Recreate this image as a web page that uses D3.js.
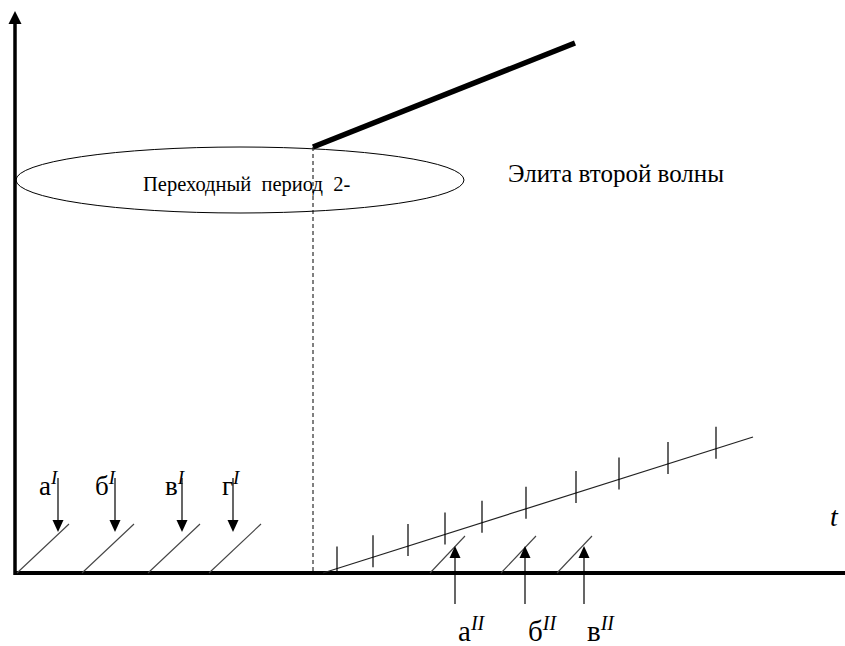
<!DOCTYPE html>
<html>
<head>
<meta charset="utf-8">
<script src="https://cdn.jsdelivr.net/npm/d3@7/dist/d3.min.js"></script>
<style>
  html, body { margin: 0; padding: 0; background: #fff; }
  svg { display: block; }
  text { font-family: "Liberation Serif", "Times New Roman", serif; fill: #000; }
</style>
</head>
<body>
<svg id="chart" width="845" height="646"></svg>
<script>
// ---- data (diagram units: t along the time axis, v upward) ----
const axisExtent = { tMax: 830, vMax: 562 };
const transitionT = 298;                       // start of the second wave
const eliteLine = [ { t: 298, v: 426 }, { t: 560, v: 530 } ];
const ellipseShape = { t: 225, v: 393, rt: 224, rv: 33 };
const ellipseLabel = "Переходный  период  2-";
const eliteLabel = "Элита второй волны";
const timeLabel = "t";

const firstWaveLabels = ["а", "б", "в", "г"];
const firstWaveLabelSup = "I";
const firstWaveStarts = [2, 67, 133, 194];     // diagonal start along t
const firstWaveArrows = [43, 100, 167, 218];   // arrow positions along t
const firstWaveLabelT = [24, 80, 150, 207];

const rampLine = [ { t: 308, v: 0 }, { t: 738, v: 136 } ];
const rampTicks = [322, 358, 393, 430, 467, 511, 561, 604, 653, 701];

const secondWaveLabels = ["а", "б", "в"];
const secondWaveLabelSup = "II";
const secondWaveStarts = [415, 486, 542];
const secondWaveArrows = [440, 510, 569];
const secondWaveLabelT = [443, 513, 572];

// ---- scales ----
const x = d3.scaleLinear().domain([0, 830]).range([15, 845]);
const y = d3.scaleLinear().domain([0, 560]).range([573, 13]);
const svg = d3.select("#chart");

// ---- axes ----
svg.append("line")
  .attr("x1", x(0)).attr("y1", y(0))
  .attr("x2", x(axisExtent.tMax)).attr("y2", y(0))
  .attr("stroke", "#000").attr("stroke-width", 4);
svg.append("line")
  .attr("x1", x(0)).attr("y1", y(0) + 2)
  .attr("x2", x(0)).attr("y2", y(axisExtent.vMax) + 4)
  .attr("stroke", "#000").attr("stroke-width", 3.5);
{
  const tipY = y(axisExtent.vMax), cx = x(0);
  svg.append("path")
    .attr("d", `M${cx},${tipY} L${cx - 6.5},${tipY + 13} L${cx + 6.5},${tipY + 13} Z`)
    .attr("fill", "#000");
}

// ---- ellipse ----
svg.append("ellipse")
  .attr("cx", x(ellipseShape.t)).attr("cy", y(ellipseShape.v))
  .attr("rx", x(ellipseShape.rt) - x(0)).attr("ry", y(0) - y(ellipseShape.rv))
  .attr("fill", "none").attr("stroke", "#000").attr("stroke-width", 1);

svg.append("text")
  .attr("x", x(128)).attr("y", y(382))
  .attr("font-size", 20.5)
  .style("white-space", "pre")
  .text(ellipseLabel);

// ---- dashed transition line ----
svg.append("line")
  .attr("x1", x(transitionT)).attr("y1", y(eliteLine[0].v))
  .attr("x2", x(transitionT)).attr("y2", y(0))
  .attr("stroke", "#000").attr("stroke-width", 1)
  .attr("stroke-dasharray", "4,3");

// ---- elite line ----
svg.append("path")
  .attr("d", d3.line().x(d => x(d.t)).y(d => y(d.v))(eliteLine))
  .attr("stroke", "#000").attr("stroke-width", 5.5).attr("fill", "none");

svg.append("text")
  .attr("x", x(493)).attr("y", y(391))
  .attr("font-size", 25)
  .text(eliteLabel);

// ---- time label ----
svg.append("text")
  .attr("x", x(815)).attr("y", y(47))
  .attr("font-size", 28).attr("font-style", "italic")
  .text(timeLabel);

// ---- first wave ----
const grey = "#444";
firstWaveStarts.forEach(s => {
  svg.append("line")
    .attr("x1", x(s)).attr("y1", y(0))
    .attr("x2", x(s + 52)).attr("y2", y(49))
    .attr("stroke", grey).attr("stroke-width", 1.1);
});
firstWaveArrows.forEach(a => {
  const top = y(95), tip = y(41), cx = x(a);
  svg.append("line")
    .attr("x1", cx).attr("y1", top).attr("x2", cx).attr("y2", tip - 10)
    .attr("stroke", "#000").attr("stroke-width", 1.2);
  svg.append("path")
    .attr("d", `M${cx},${tip} L${cx - 5.5},${tip - 12} L${cx + 5.5},${tip - 12} Z`)
    .attr("fill", "#000");
});
firstWaveLabels.forEach((lab, i) => {
  const tx = svg.append("text")
    .attr("x", x(firstWaveLabelT[i])).attr("y", y(78))
    .attr("font-size", 27);
  tx.append("tspan").text(lab);
  tx.append("tspan").attr("dy", -11).attr("font-size", 19)
    .attr("font-style", "italic").text(firstWaveLabelSup);
});

// ---- second wave ramp ----
svg.append("path")
  .attr("d", d3.line().x(d => x(d.t)).y(d => y(d.v))(rampLine))
  .attr("stroke", "#222").attr("stroke-width", 1.2).attr("fill", "none");
const rampV = d3.scaleLinear().domain([rampLine[0].t, rampLine[1].t]).range([rampLine[0].v, rampLine[1].v]);
rampTicks.forEach(t => {
  const v = rampV(t);
  svg.append("line")
    .attr("x1", x(t)).attr("y1", y(v + 22))
    .attr("x2", x(t)).attr("y2", Math.min(y(v - 10), y(0)))
    .attr("stroke", "#000").attr("stroke-width", 1.2);
});

secondWaveStarts.forEach(s => {
  svg.append("line")
    .attr("x1", x(s)).attr("y1", y(0))
    .attr("x2", x(s + 35)).attr("y2", y(37))
    .attr("stroke", grey).attr("stroke-width", 1.1);
});
secondWaveArrows.forEach(a => {
  const bottom = y(-31), tip = y(27), cx = x(a);
  svg.append("line")
    .attr("x1", cx).attr("y1", bottom).attr("x2", cx).attr("y2", tip + 10)
    .attr("stroke", "#000").attr("stroke-width", 1.2);
  svg.append("path")
    .attr("d", `M${cx},${tip} L${cx - 5.5},${tip + 12} L${cx + 5.5},${tip + 12} Z`)
    .attr("fill", "#000");
});
secondWaveLabels.forEach((lab, i) => {
  const tx = svg.append("text")
    .attr("x", x(secondWaveLabelT[i])).attr("y", y(-68))
    .attr("font-size", 29);
  tx.append("tspan").text(lab);
  tx.append("tspan").attr("dy", -11).attr("font-size", 20)
    .attr("font-style", "italic").text(secondWaveLabelSup);
});
</script>
</body>
</html>
